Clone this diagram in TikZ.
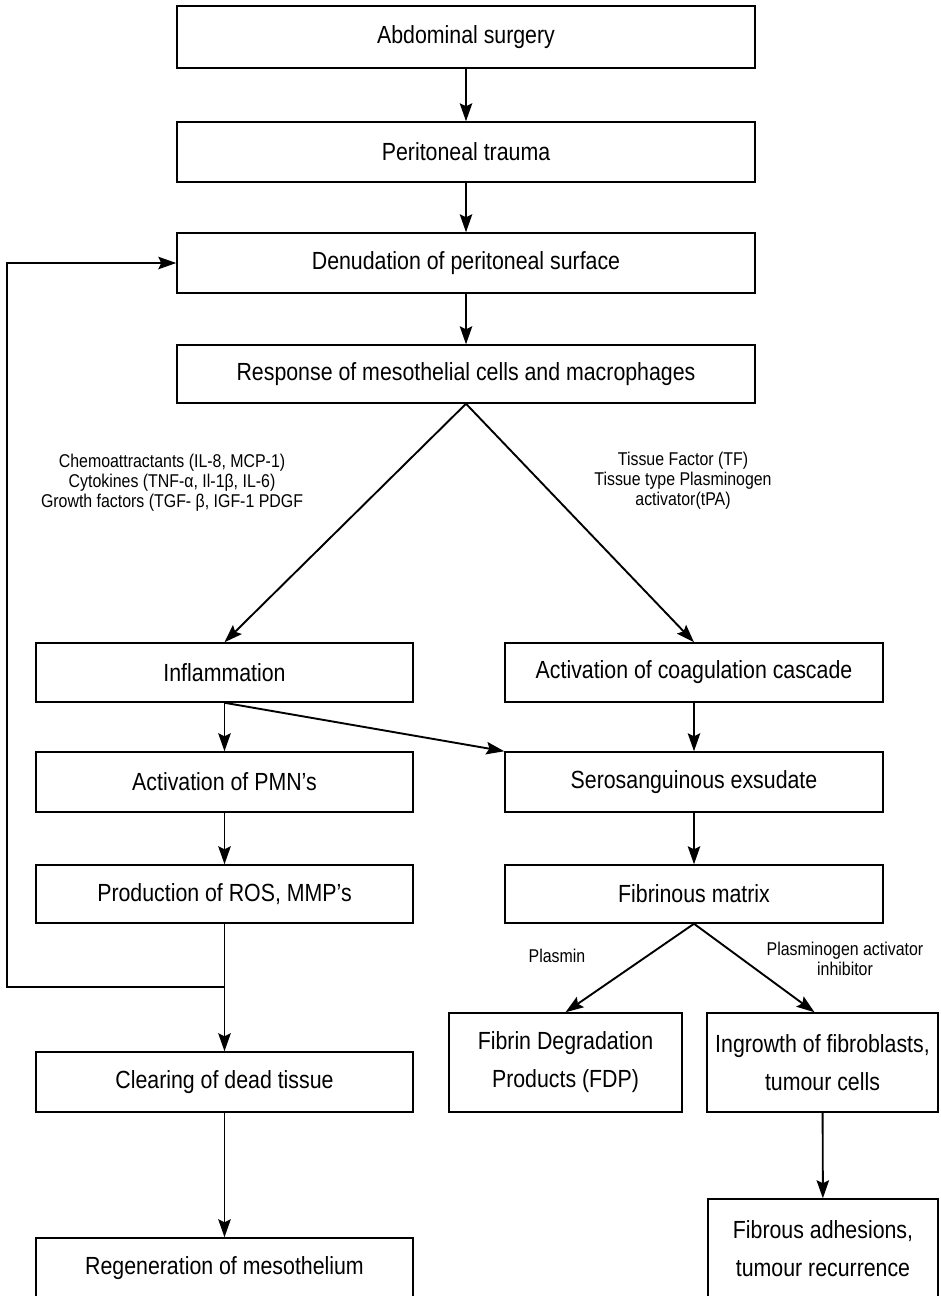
\documentclass[tikz,border=0pt]{standalone}
\usepackage{fontspec}
\setmainfont{Liberation Sans}[FakeStretch=0.86]
\usetikzlibrary{arrows.meta}
\begin{document}
\begin{tikzpicture}[x=1pt,y=-1pt,
  box/.style={draw,line width=1.5pt,align=center,inner sep=0pt,font=\fontsize{24.8}{38}\selectfont},
  widebox/.style={box,minimum width=578pt,minimum height=60pt},
  colbox/.style={box,minimum width=377pt,minimum height=59pt},
  smallbox/.style={box,minimum width=232pt,minimum height=99pt},
  lab/.style={align=center,inner sep=0pt,font=\fontsize{18.5}{20}\selectfont},
  arr/.style={line width=1.9pt,-{Stealth[length=18pt,width=12.5pt,inset=3pt]}}]
\clip (0,0) rectangle (940,1296);
\fill[white] (0,0) rectangle (940,1296);
% top column
\node[widebox,minimum height=62pt] (abd) at (466,37) {Abdominal surgery};
\node[widebox] (per) at (466,152) {Peritoneal trauma};
\node[widebox] (den) at (466,263) {Denudation of peritoneal surface};
\node[widebox,minimum height=58pt] (resp) at (466,374) {Response of mesothelial cells and macrophages};
% left column
\node[colbox] (infl) at (224.5,672.5) {Inflammation};
\node[colbox,minimum height=60pt] (pmn) at (224.5,782) {Activation of PMN's};
\node[colbox,minimum height=58pt] (ros) at (224.5,894) {Production of ROS, MMP's};
\node[colbox,minimum height=60pt] (clear) at (224.5,1082) {Clearing of dead tissue};
\node[colbox,minimum height=60pt] (regen) at (224.5,1268) {Regeneration of mesothelium};
% right column
\node[colbox,minimum width=378pt] (coag) at (694,672.5) {Activation of coagulation cascade};
\node[colbox,minimum width=378pt,minimum height=60pt] (sero) at (694,782) {Serosanguinous exsudate};
\node[colbox,minimum width=378pt,minimum height=58pt] (fib) at (694,894) {Fibrinous matrix};
\node[smallbox,minimum width=233pt] (fdp) at (565.5,1062.5) {Fibrin Degradation\\Products (FDP)};
\node[smallbox,minimum width=231pt] (ing) at (822.5,1062.5) {Ingrowth of fibroblasts,\\tumour cells};
\node[smallbox,minimum width=230pt] (fibr) at (823,1248.5) {Fibrous adhesions,\\tumour recurrence};
% labels
\node[lab] (l1) at (172,483) {Chemoattractants (IL-8, MCP-1)\\Cytokines (TNF-α, Il-1β, IL-6)\\Growth factors (TGF- β, IGF-1 PDGF};
\node[lab] (l2) at (683,481) {Tissue Factor (TF)\\Tissue type Plasminogen\\activator(tPA)};
\node[lab] (l3) at (557,956) {Plasmin};
\node[lab] (l4) at (845,959) {Plasminogen activator\\inhibitor};
% connectors
\draw[arr] (abd) -- (per);
\draw[arr] (per) -- (den);
\draw[arr] (den) -- (resp);
\draw[arr] (resp.south) -- (infl.north);
\draw[arr] (resp.south) -- (coag.north);
\draw[arr] (infl) -- (pmn);
\draw[arr] (infl.south) -- (sero.north west);
\draw[arr] (coag) -- (sero);
\draw[arr] (pmn) -- (ros);
\draw[arr] (sero) -- (fib);
\draw[arr] (ros) -- (clear);
\draw[arr] (fib.south) -- (fdp.north);
\draw[arr] (fib.south) -- ([xshift=-8pt]ing.north);
\draw[arr] (ing) -- (fibr);
\draw[arr] (clear) -- (regen);
\coordinate (j) at (224.5,987);
\coordinate (fl) at (7,987);
\draw[arr] (j) -- (fl) |- (den.west);
\end{tikzpicture}
\end{document}
